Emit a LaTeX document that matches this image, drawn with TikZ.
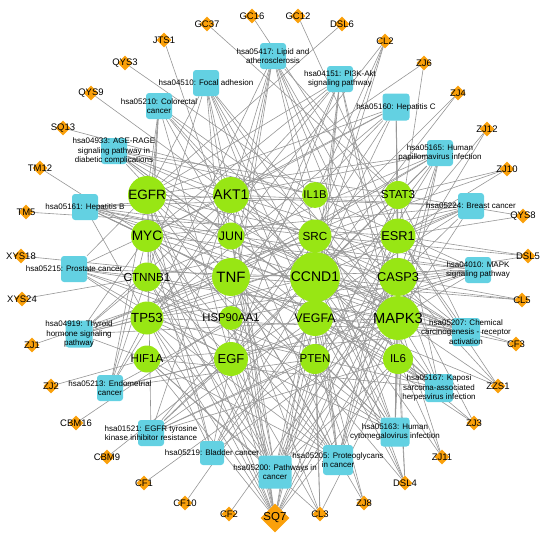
\documentclass[tikz,border=0pt]{standalone}
\usepackage{fontspec}
\setmainfont{Liberation Sans}
\usetikzlibrary{shapes.geometric}
\definecolor{targetgreen}{RGB}{152,230,20}
\definecolor{pathcyan}{RGB}{99,209,226}
\definecolor{cmporange}{RGB}{250,160,10}
\definecolor{linkgray}{RGB}{150,150,150}
\pgfdeclarelayer{links}
\pgfsetlayers{links,main}
\tikzset{
  target/.style={circle, fill=targetgreen, minimum size=#1, inner sep=0pt},
  pathway/.style={rectangle, rounded corners=3pt, fill=pathcyan, minimum size=#1, inner sep=0pt},
  pathway/.default=26,
  compound/.style={diamond, fill=cmporange, minimum size=#1, inner sep=0pt},
  compound/.default=15,
  tlabel/.style={font=\fontsize{#1}{#1}\selectfont},
  plabel/.style={font=\fontsize{8}{9.6}\selectfont, align=center},
  clabel/.style={font=\fontsize{9.5}{11}\selectfont},
  link/.style={draw=linkgray, line width=0.6pt},
}

\begin{document}
\begin{tikzpicture}[x=1pt, y=-1pt]
\useasboundingbox (0,0) rectangle (550,538);
% targets
\node[target=38, label={[tlabel=13.5]center:EGFR}] (EGFR) at (147,195) {};
\node[target=36, label={[tlabel=14]center:AKT1}] (AKT1) at (231,195) {};
\node[target=26, label={[tlabel=11.3]center:IL1B}] (IL1B) at (315,195) {};
\node[target=28, label={[tlabel=11.6]center:STAT3}] (STAT3) at (398,195) {};
\node[target=32, label={[tlabel=13.7]center:MYC}] (MYC) at (147,236) {};
\node[target=27, label={[tlabel=12.4]center:JUN}] (JUN) at (231,236) {};
\node[target=33, label={[tlabel=11.7]center:SRC}] (SRC) at (315,236) {};
\node[target=35, label={[tlabel=12.8]center:ESR1}] (ESR1) at (398,236) {};
\node[target=29, label={[tlabel=11.7]center:CTNNB1}] (CTNNB1) at (147,277) {};
\node[target=38, label={[tlabel=15]center:TNF}] (TNF) at (231,277) {};
\node[target=50, label={[tlabel=14]center:CCND1}] (CCND1) at (315,277) {};
\node[target=38, label={[tlabel=12.8]center:CASP3}] (CASP3) at (398,277) {};
\node[target=33, label={[tlabel=13.2]center:TP53}] (TP53) at (147,318) {};
\node[target=24, label={[tlabel=11.3]center:HSP90AA1}] (HSP90AA1) at (231,318) {};
\node[target=36, label={[tlabel=12.4]center:VEGFA}] (VEGFA) at (315,318) {};
\node[target=44, label={[tlabel=14.7]center:MAPK3}] (MAPK3) at (398,318) {};
\node[target=27, label={[tlabel=11.5]center:HIF1A}] (HIF1A) at (147,359) {};
\node[target=34, label={[tlabel=13]center:EGF}] (EGF) at (231,359) {};
\node[target=30, label={[tlabel=11.5]center:PTEN}] (PTEN) at (315,359) {};
\node[target=30, label={[tlabel=11.5]center:IL6}] (IL6) at (398,359) {};
% pathways
\node[pathway, label={[plabel]center:hsa05417: Lipid and\\atherosclerosis}] (p05417) at (273,56) {};
\node[pathway, label={[plabel]center:hsa04151: PI3K-Akt\\signaling pathway}] (p04151) at (340,79) {};
\node[pathway, label={[plabel]center:hsa04510: Focal adhesion}] (p04510) at (206,83) {};
\node[pathway, label={[plabel]center:hsa05210: Colorectal\\cancer}] (p05210) at (159,106) {};
\node[pathway=27, label={[plabel]center:hsa05160: Hepatitis C}] (p05160) at (396,107) {};
\node[pathway, label={[plabel]center:hsa04933: AGE-RAGE\\signaling pathway in\\diabetic complications}] (p04933) at (114,151) {};
\node[pathway, label={[plabel]center:hsa05165: Human\\papillomavirus infection}] (p05165) at (440,153) {};
\node[pathway, label={[plabel]center:hsa05161: Hepatitis B}] (p05161) at (85,207) {};
\node[pathway, label={[plabel]center:hsa05224: Breast cancer}] (p05224) at (471,206) {};
\node[pathway, label={[plabel]center:hsa05215: Prostate cancer}] (p05215) at (74,269) {};
\node[pathway, label={[plabel]center:hsa04010: MAPK\\signaling pathway}] (p04010) at (478,270) {};
\node[pathway=27, label={[plabel]center:hsa04919: Thyroid\\hormone signaling\\pathway}] (p04919) at (79,334) {};
\node[pathway=28, label={[plabel]center:hsa05207: Chemical\\carcinogenesis - receptor\\activation}] (p05207) at (466,332) {};
\node[pathway, label={[plabel]center:hsa05213: Endometrial\\cancer}] (p05213) at (110,388) {};
\node[pathway=28, label={[plabel]center:hsa05167: Kaposi\\sarcoma-associated\\herpesvirus infection}] (p05167) at (439,388) {};
\node[pathway, label={[plabel]center:hsa01521: EGFR tyrosine\\kinase inhibitor resistance}] (p01521) at (151,433) {};
\node[pathway=29, label={[plabel]center:hsa05163: Human\\cytomegalovirus infection}] (p05163) at (395,432) {};
\node[pathway=24, label={[plabel]center:hsa05219: Bladder cancer}] (p05219) at (212,453) {};
\node[pathway=30, label={[plabel]center:hsa05205: Proteoglycans\\in cancer}] (p05205) at (338,460) {};
\node[pathway=33, label={[plabel]center:hsa05200: Pathways in\\cancer}] (p05200) at (275,472) {};
% compounds
\node[compound, label={[clabel]center:GC37}] (GC37) at (207,24) {};
\node[compound, label={[clabel]center:GC16}] (GC16) at (252,16) {};
\node[compound, label={[clabel]center:GC12}] (GC12) at (298,16) {};
\node[compound, label={[clabel]center:DSL6}] (DSL6) at (342,24) {};
\node[compound, label={[clabel]center:CL2}] (CL2) at (385,41) {};
\node[compound, label={[clabel]center:ZJ6}] (ZJ6) at (424,63) {};
\node[compound, label={[clabel]center:ZJ4}] (ZJ4) at (458,93) {};
\node[compound, label={[clabel]center:ZJ12}] (ZJ12) at (487,129) {};
\node[compound, label={[clabel]center:ZJ10}] (ZJ10) at (507,169) {};
\node[compound, label={[clabel]center:QYS8}] (QYS8) at (523,216) {};
\node[compound, label={[clabel]center:DSL5}] (DSL5) at (528,256) {};
\node[compound, label={[clabel]center:CL5}] (CL5) at (522,300) {};
\node[compound, label={[clabel]center:CF3}] (CF3) at (516,344) {};
\node[compound, label={[clabel]center:ZZS1}] (ZZS1) at (498,386) {};
\node[compound, label={[clabel]center:ZJ3}] (ZJ3) at (474,423) {};
\node[compound, label={[clabel]center:ZJ11}] (ZJ11) at (442,457) {};
\node[compound, label={[clabel]center:DSL4}] (DSL4) at (405,483) {};
\node[compound, label={[clabel]center:ZJ8}] (ZJ8) at (364,503) {};
\node[compound, label={[clabel]center:CL3}] (CL3) at (320,514) {};
\node[compound=29, label={[tlabel=11.5]center:SQ7}] (SQ7) at (275,518) {};
\node[compound, label={[clabel]center:CF2}] (CF2) at (229,514) {};
\node[compound, label={[clabel]center:CF10}] (CF10) at (185,503) {};
\node[compound, label={[clabel]center:CF1}] (CF1) at (144,483) {};
\node[compound, label={[clabel]center:CBM9}] (CBM9) at (107,457) {};
\node[compound, label={[clabel]center:CBM16}] (CBM16) at (76,423) {};
\node[compound, label={[clabel]center:ZJ2}] (ZJ2) at (51,386) {};
\node[compound, label={[clabel]center:ZJ1}] (ZJ1) at (32,345) {};
\node[compound, label={[clabel]center:XYS24}] (XYS24) at (22,299) {};
\node[compound, label={[clabel]center:XYS18}] (XYS18) at (21,256) {};
\node[compound, label={[clabel]center:TM5}] (TM5) at (26,212) {};
\node[compound, label={[clabel]center:TM12}] (TM12) at (40,168) {};
\node[compound, label={[clabel]center:SQ13}] (SQ13) at (63,128) {};
\node[compound, label={[clabel]center:QYS9}] (QYS9) at (91,93) {};
\node[compound, label={[clabel]center:QYS3}] (QYS3) at (125,63) {};
\node[compound, label={[clabel]center:JTS1}] (JTS1) at (164,40) {};
% links, behind the nodes
\begin{pgfonlayer}{links}
\draw[link] (p05417) edge (AKT1) edge (JUN) edge (SRC) edge (TNF) edge (IL1B) edge (IL6) edge (CASP3) edge (MAPK3) edge (STAT3) edge (TP53) edge (HSP90AA1);
\draw[link] (p04151) edge (EGFR) edge (AKT1) edge (MYC) edge (CCND1) edge (TP53) edge (EGF) edge (VEGFA) edge (PTEN) edge (IL6) edge (MAPK3) edge (HSP90AA1);
\draw[link] (p04510) edge (EGFR) edge (AKT1) edge (JUN) edge (SRC) edge (CTNNB1) edge (CCND1) edge (EGF) edge (VEGFA) edge (PTEN) edge (MAPK3);
\draw[link] (p05210) edge (EGFR) edge (AKT1) edge (MYC) edge (JUN) edge (CTNNB1) edge (TP53) edge (CCND1) edge (EGF) edge (CASP3) edge (MAPK3);
\draw[link] (p05160) edge (EGFR) edge (AKT1) edge (MYC) edge (STAT3) edge (TNF) edge (TP53) edge (CCND1) edge (EGF) edge (CASP3) edge (MAPK3);
\draw[link] (p04933) edge (AKT1) edge (JUN) edge (STAT3) edge (TNF) edge (IL1B) edge (IL6) edge (CASP3) edge (VEGFA) edge (MAPK3);
\draw[link] (p05165) edge (EGFR) edge (AKT1) edge (CTNNB1) edge (TNF) edge (TP53) edge (CCND1) edge (EGF) edge (VEGFA) edge (PTEN) edge (IL6) edge (CASP3) edge (MAPK3) edge (STAT3);
\draw[link] (p05161) edge (AKT1) edge (MYC) edge (JUN) edge (SRC) edge (STAT3) edge (TNF) edge (TP53) edge (CCND1) edge (IL6) edge (CASP3) edge (MAPK3);
\draw[link] (p05224) edge (EGFR) edge (AKT1) edge (MYC) edge (CTNNB1) edge (TP53) edge (CCND1) edge (EGF) edge (ESR1) edge (PTEN) edge (MAPK3);
\draw[link] (p05215) edge (EGFR) edge (AKT1) edge (CTNNB1) edge (TP53) edge (CCND1) edge (EGF) edge (PTEN) edge (MAPK3) edge (HSP90AA1);
\draw[link] (p04010) edge (EGFR) edge (AKT1) edge (MYC) edge (JUN) edge (TNF) edge (TP53) edge (IL1B) edge (EGF) edge (VEGFA) edge (CASP3) edge (MAPK3) edge (HSP90AA1);
\draw[link] (p04919) edge (AKT1) edge (MYC) edge (SRC) edge (CTNNB1) edge (TP53) edge (CCND1) edge (HIF1A) edge (ESR1) edge (STAT3) edge (MAPK3);
\draw[link] (p05207) edge (EGFR) edge (AKT1) edge (MYC) edge (JUN) edge (SRC) edge (CTNNB1) edge (STAT3) edge (TP53) edge (CCND1) edge (HIF1A) edge (ESR1) edge (VEGFA) edge (CASP3) edge (MAPK3);
\draw[link] (p05213) edge (EGFR) edge (AKT1) edge (MYC) edge (CTNNB1) edge (TP53) edge (CCND1) edge (EGF) edge (PTEN) edge (MAPK3);
\draw[link] (p05167) edge (AKT1) edge (MYC) edge (JUN) edge (SRC) edge (STAT3) edge (TP53) edge (CCND1) edge (HIF1A) edge (IL6) edge (VEGFA) edge (CASP3) edge (MAPK3);
\draw[link] (p01521) edge (EGFR) edge (AKT1) edge (SRC) edge (STAT3) edge (EGF) edge (VEGFA) edge (PTEN) edge (IL6) edge (MAPK3);
\draw[link] (p05163) edge (EGFR) edge (AKT1) edge (MYC) edge (SRC) edge (CTNNB1) edge (STAT3) edge (TNF) edge (TP53) edge (CCND1) edge (IL1B) edge (IL6) edge (VEGFA) edge (CASP3) edge (MAPK3);
\draw[link] (p05219) edge (EGFR) edge (MYC) edge (SRC) edge (TP53) edge (CCND1) edge (EGF) edge (VEGFA) edge (MAPK3);
\draw[link] (p05205) edge (EGFR) edge (AKT1) edge (MYC) edge (SRC) edge (CTNNB1) edge (STAT3) edge (TNF) edge (TP53) edge (CCND1) edge (HIF1A) edge (VEGFA) edge (ESR1) edge (CASP3) edge (MAPK3);
\draw[link] (p05200) edge (EGFR) edge (AKT1) edge (MYC) edge (JUN) edge (CTNNB1) edge (STAT3) edge (TP53) edge (CCND1) edge (HIF1A) edge (EGF) edge (IL6) edge (VEGFA) edge (PTEN) edge (CASP3) edge (MAPK3) edge (HSP90AA1) edge (ESR1);
% compound links
\draw[link] (SQ7) edge (EGFR) edge (AKT1) edge (MYC) edge (JUN) edge (TNF) edge (TP53) edge (HSP90AA1) edge (EGF) edge (CCND1) edge (VEGFA) edge (PTEN) edge (IL6) edge (MAPK3) edge (CASP3) edge (ESR1) edge (HIF1A) edge (CTNNB1);
\draw[link] (CL3) edge (HIF1A) edge (EGF) edge (VEGFA) edge (PTEN) edge (IL6) edge (TNF);
\draw[link] (ZJ8) edge (VEGFA) edge (PTEN) edge (TNF);
\draw[link] (DSL4) edge (IL6) edge (MAPK3) edge (CCND1) edge (VEGFA) edge (SRC) edge (TNF);
\draw[link] (ZJ11) edge (IL6) edge (MAPK3) edge (CCND1);
\draw[link] (ZJ3) edge (IL6) edge (CASP3) edge (VEGFA);
\draw[link] (ZZS1) edge (MAPK3) edge (CASP3) edge (ESR1) edge (TNF);
\draw[link] (CF3) edge (MAPK3) edge (CCND1);
\draw[link] (CL5) edge (CASP3) edge (CCND1) edge (TNF);
\draw[link] (DSL5) edge (ESR1) edge (CASP3) edge (SRC);
\draw[link] (QYS8) edge (ESR1) edge (STAT3);
\draw[link] (ZJ10) edge (ESR1) edge (SRC) edge (STAT3);
\draw[link] (ZJ12) edge (CASP3) edge (ESR1);
\draw[link] (ZJ4) edge (SRC) edge (CCND1);
\draw[link] (ZJ6) edge (AKT1) edge (ESR1);
\draw[link] (CL2) edge (IL1B) edge (SRC) edge (CCND1) edge (JUN);
\draw[link] (DSL6) edge (EGFR);
\draw[link] (GC12) edge (ESR1);
\draw[link] (GC16) edge (ESR1);
\draw[link] (GC37) edge (STAT3);
\draw[link] (JTS1) edge (JUN);
\draw[link] (QYS3) edge (IL1B);
\draw[link] (QYS9) edge (AKT1);
\draw[link] (SQ13) edge (IL1B);
\draw[link] (TM12) edge (MYC);
\draw[link] (TM5) edge (ESR1);
\draw[link] (XYS18) edge (TNF);
\draw[link] (XYS24) edge (CTNNB1);
\draw[link] (ZJ1) edge (TNF);
\draw[link] (ZJ2) edge (HIF1A);
\draw[link] (CBM16) edge (HSP90AA1);
\draw[link] (CBM9) edge (EGF);
\draw[link] (CF1) edge (PTEN);
\draw[link] (CF10) edge (VEGFA);
\draw[link] (CF2) edge (CASP3);
\end{pgfonlayer}
\end{tikzpicture}
\end{document}
